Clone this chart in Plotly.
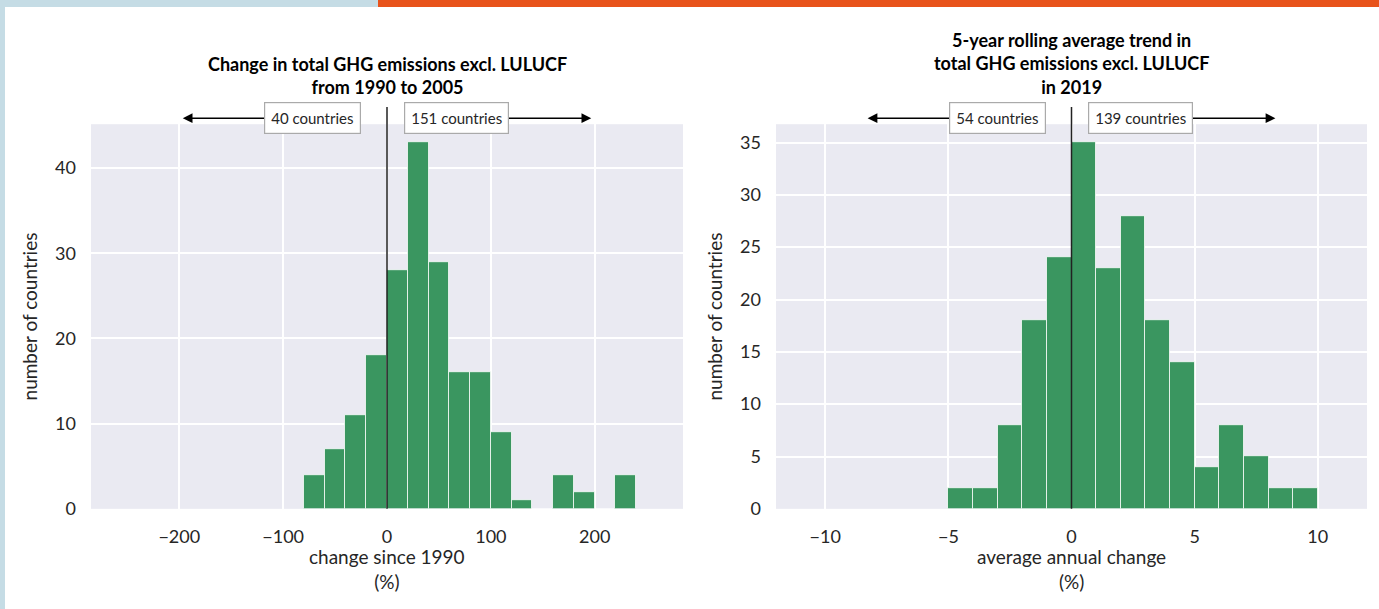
import plotly.graph_objects as go

# ---- data ----
left_bin_edges = [-80, -60, -40, -20, 0, 20, 40, 60, 80, 100, 120, 140, 160, 180, 200, 220, 240]
left_counts = [4, 7, 11, 18, 28, 43, 29, 16, 16, 9, 1, 0, 4, 2, 0, 4]
right_bin_edges = [-5, -4, -3, -2, -1, 0, 1, 2, 3, 4, 5, 6, 7, 8, 9, 10]
right_counts = [2, 2, 8, 18, 24, 35, 23, 28, 18, 14, 4, 8, 5, 2, 2]

left_title = ["Change in total GHG emissions excl. LULUCF", "from 1990 to 2005"]
right_title = ["5-year rolling average trend in", "total GHG emissions excl. LULUCF", "in 2019"]
left_xlabel = ["change since 1990", "(%)"]
right_xlabel = ["average annual change", "(%)"]
ylabel = "number of countries"
left_labels = ["40 countries", "151 countries"]
right_labels = ["54 countries", "139 countries"]
left_xticks = [-200, -100, 0, 100, 200]
right_xticks = [-10, -5, 0, 5, 10]
left_yticks = [0, 10, 20, 30, 40]
right_yticks = [0, 5, 10, 15, 20, 25, 30, 35]

FONT = "Lato"
BAR = "#3a9660"
BG = "#EAEAF2"
TXT = "#262626"
W, H = 1379, 609
EH = 598.0  # effective rendered paper height observed in the photograph


def fy(px):
    """paper fraction for a pixel row measured from the top"""
    return 1 - px / EH


def centers(edges):
    return [(a + b) / 2 for a, b in zip(edges[:-1], edges[1:])]


def widths(edges):
    return [b - a for a, b in zip(edges[:-1], edges[1:])]


fig = go.Figure()
fig.add_trace(go.Bar(x=centers(left_bin_edges), y=left_counts, width=widths(left_bin_edges),
                     marker=dict(color=BAR, line=dict(color="rgba(255,255,255,0.75)", width=1)),
                     xaxis="x", yaxis="y", showlegend=False, hoverinfo="x+y"))
fig.add_trace(go.Bar(x=centers(right_bin_edges), y=right_counts, width=widths(right_bin_edges),
                     marker=dict(color=BAR, line=dict(color="rgba(255,255,255,0.75)", width=1)),
                     xaxis="x2", yaxis="y2", showlegend=False, hoverinfo="x+y"))

ydom = [fy(508), fy(124)]
xdom1 = [91 / W, 683 / W]
xdom2 = [776 / W, 1367 / W]
plot_h = 384 * 1.0

axcommon = dict(showgrid=True, gridcolor="white", gridwidth=1.5, zeroline=False,
                showline=False, ticks="", tickfont=dict(family=FONT, size=18, color=TXT))
xcommon = dict(ticklabelstandoff=15, **axcommon)
ycommon = dict(ticklabelstandoff=14, **axcommon)
ytitle_font = dict(family=FONT, size=19, color=TXT)

fig.update_layout(
    width=W, height=H, autosize=False, margin=dict(l=0, r=0, t=0, b=0),
    paper_bgcolor="white", plot_bgcolor=BG, bargap=0,
    font=dict(family=FONT, color=TXT),
    xaxis=dict(domain=xdom1, range=[-285, 285], tickvals=left_xticks, anchor="y", **xcommon),
    yaxis=dict(domain=ydom, range=[0, 45.15], tickvals=left_yticks, anchor="x",
               title=dict(text=ylabel, font=ytitle_font, standoff=12), **ycommon),
    xaxis2=dict(domain=xdom2, range=[-12, 12], tickvals=right_xticks, anchor="y2", **xcommon),
    yaxis2=dict(domain=ydom, range=[0, 36.75], tickvals=right_yticks, anchor="x2",
                title=dict(text=ylabel, font=ytitle_font, standoff=12), **ycommon),
)

# decorative strips
fig.add_shape(type="rect", xref="paper", yref="paper", x0=0, x1=378 / W, y0=fy(7), y1=1,
              fillcolor="#c5dce5", line_width=0, layer="above")
fig.add_shape(type="rect", xref="paper", yref="paper", x0=378 / W, x1=1, y0=fy(7), y1=1,
              fillcolor="#e8531b", line_width=0, layer="above")
fig.add_shape(type="rect", xref="paper", yref="paper", x0=0, x1=5 / W, y0=-0.05, y1=1,
              fillcolor="#c5dce5", line_width=0, layer="above")

ann_y = 1 + 6 / plot_h


def add_panel(xr, yr, xmax, labels, title_lines, title_center_px, xlabel_lines):
    # zero line
    fig.add_shape(type="line", xref=xr, yref=yr + " domain", x0=0, x1=0, y0=0, y1=1.045,
                  line=dict(color="#222222", width=1.5), layer="above")
    # arrows
    head = 0.69 * xmax
    tail = 0.40 * xmax
    for sgn in (-1, 1):
        fig.add_annotation(xref=xr, yref=yr + " domain", x=sgn * head, y=ann_y,
                           axref=xr, ayref="pixel", ax=sgn * tail, ay=0,
                           text="", showarrow=True, arrowhead=2, arrowsize=1.3,
                           arrowwidth=1.5, arrowcolor="black")
    # labels
    box = dict(showarrow=False, font=dict(family=FONT, size=15, color=TXT), bgcolor="white",
               bordercolor="#aaaaaa", borderwidth=1.2, borderpad=6, yanchor="middle")
    fig.add_annotation(xref=xr, yref=yr + " domain", x=-0.088 * xmax, y=ann_y, xanchor="right",
                       text=labels[0], **box)
    fig.add_annotation(xref=xr, yref=yr + " domain", x=0.056 * xmax, y=ann_y, xanchor="left",
                       text=labels[1], **box)
    # title (one multi-line text)
    fig.add_annotation(xref=xr + " domain", yref="paper", x=0.5, y=fy(title_center_px),
                       xanchor="center", yanchor="middle",
                       text="<b>" + "<br>".join(title_lines) + "</b>",
                       showarrow=False, font=dict(family=FONT, size=18, color="black"))
    # x label (one multi-line text)
    fig.add_annotation(xref=xr + " domain", yref="paper", x=0.5, y=fy(568.5),
                       xanchor="center", yanchor="middle", text="<br>".join(xlabel_lines),
                       showarrow=False, font=dict(family=FONT, size=19, color=TXT))


add_panel("x", "y", 285, left_labels, left_title, 75.5, left_xlabel)
add_panel("x2", "y2", 12, right_labels, right_title, 63, right_xlabel)

fig.write_html(
    "out.html",
    config={"responsive": False, "displayModeBar": False},
    post_script="document.body.style.margin='0px';",
)
